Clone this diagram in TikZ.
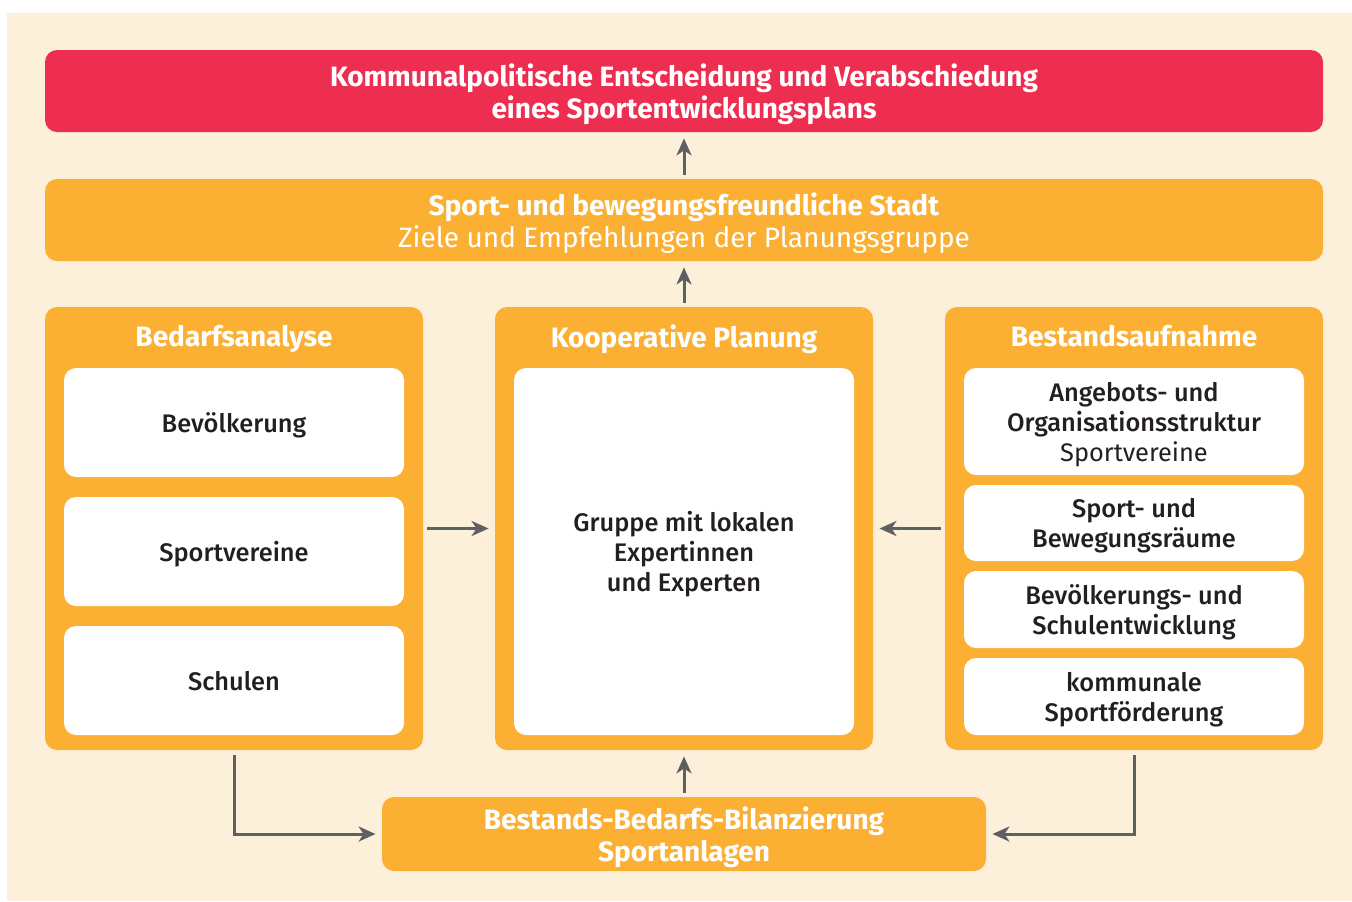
\documentclass[tikz,border=0pt]{standalone}
\usepackage{fontspec}
\setmainfont{Fira Sans}
\newfontfamily\medfont{Fira Sans Medium}
\usetikzlibrary{arrows.meta}
\definecolor{cream}{RGB}{253,240,219}
\definecolor{redbox}{RGB}{238,46,80}
\definecolor{orangebox}{RGB}{251,176,52}
\definecolor{arrowgray}{RGB}{95,96,98}
\definecolor{textdark}{RGB}{35,31,32}
\tikzset{
  wide/.style={rounded corners=6pt, minimum width=639pt, minimum height=41pt,
    inner sep=0pt, align=center, text=white, text depth=0pt,
    font=\fontsize{14}{16}\selectfont},
  panel/.style={fill=orangebox, rounded corners=6pt, minimum width=189pt,
    minimum height=221.5pt, inner sep=0pt},
  paneltitle/.style={text=white, text depth=0pt, font=\fontsize{14}{16}\selectfont\bfseries},
  card/.style={fill=white, rounded corners=6pt, minimum width=170pt, inner sep=0pt,
    align=center, text=textdark, text depth=0pt,
    font=\fontsize{12.7}{15}\selectfont\medfont},
  flow/.style={draw=arrowgray, line width=1.5pt,
    -{Stealth[length=8.5pt, width=7.5pt, inset=2.5pt]}},
}
\begin{document}
\begin{tikzpicture}[x=0.5pt, y=-0.5pt]
  \useasboundingbox (0,0) rectangle (1352,901);
  \fill[white] (0,0) rectangle (1352,901);
  \fill[cream] (7,13) rectangle (1352,901);

  % top row
  \node[wide, fill=redbox, font=\fontsize{14}{16}\selectfont\bfseries] (Beschluss) at (684,91)
    {Kommunalpolitische Entscheidung und Verabschiedung\\eines Sportentwicklungsplans};
  \node[wide, fill=orangebox] (Stadt) at (684,220)
    {\textbf{Sport- und bewegungsfreundliche Stadt}\\Ziele und Empfehlungen der Planungsgruppe};

  % three panels
  \node[panel] (Bedarf) at (234,528.5) {};
  \node[panel] (Planung) at (684,528.5) {};
  \node[panel] (Bestand) at (1134,528.5) {};
  \node[paneltitle] (BedarfTitel) at (234,336) {Bedarfsanalyse};
  \node[paneltitle] (PlanungTitel) at (684,336) {Kooperative Planung};
  \node[paneltitle] (BestandTitel) at (1134,336) {Bestandsaufnahme};

  % Bedarfsanalyse
  \node[card, minimum height=54.5pt] (Bev) at (234,422.5) {Bevölkerung};
  \node[card, minimum height=54.5pt] (Vereine) at (234,551.5) {Sportvereine};
  \node[card, minimum height=54.5pt] (Schulen) at (234,680.5) {Schulen};

  % Kooperative Planung
  \node[card, minimum height=183.5pt] (Gruppe) at (684,551.5)
    {Gruppe mit lokalen\\Expertinnen\\und Experten};

  % Bestandsaufnahme
  \node[card, minimum height=53.5pt] (Angebot) at (1134,421.5)
    {Angebots- und\\Organisationsstruktur\\{\normalfont Sportvereine}};
  \node[card, minimum height=38pt] (Raeume) at (1134,523)
    {Sport- und\\Bewegungsräume};
  \node[card, minimum height=38.5pt] (Entw) at (1134,609.5)
    {Bevölkerungs- und\\Schulentwicklung};
  \node[card, minimum height=38.5pt] (Foerd) at (1134,696.5)
    {kommunale\\Sportförderung};

  % bottom
  \node[wide, fill=orangebox, minimum width=302pt, minimum height=37pt,
    font=\fontsize{14}{16}\selectfont\bfseries] (Bilanz) at (684,834)
    {Bestands-Bedarfs-Bilanzierung\\Sportanlagen};

  % arrows
  \path[flow, shorten <=2pt, shorten >=3pt]
  (Stadt) edge (Beschluss)
  (Planung) edge (Stadt)
  (Bilanz) edge (Planung)
  (Bedarf) edge (Planung)
  (Bestand) edge (Planung);
  \draw[flow, shorten <=2.5pt, shorten >=3pt] (Bedarf.south) |- (Bilanz.west);
  \draw[flow, shorten <=2.5pt, shorten >=3pt] (Bestand.south) |- (Bilanz.east);
\end{tikzpicture}
\end{document}
